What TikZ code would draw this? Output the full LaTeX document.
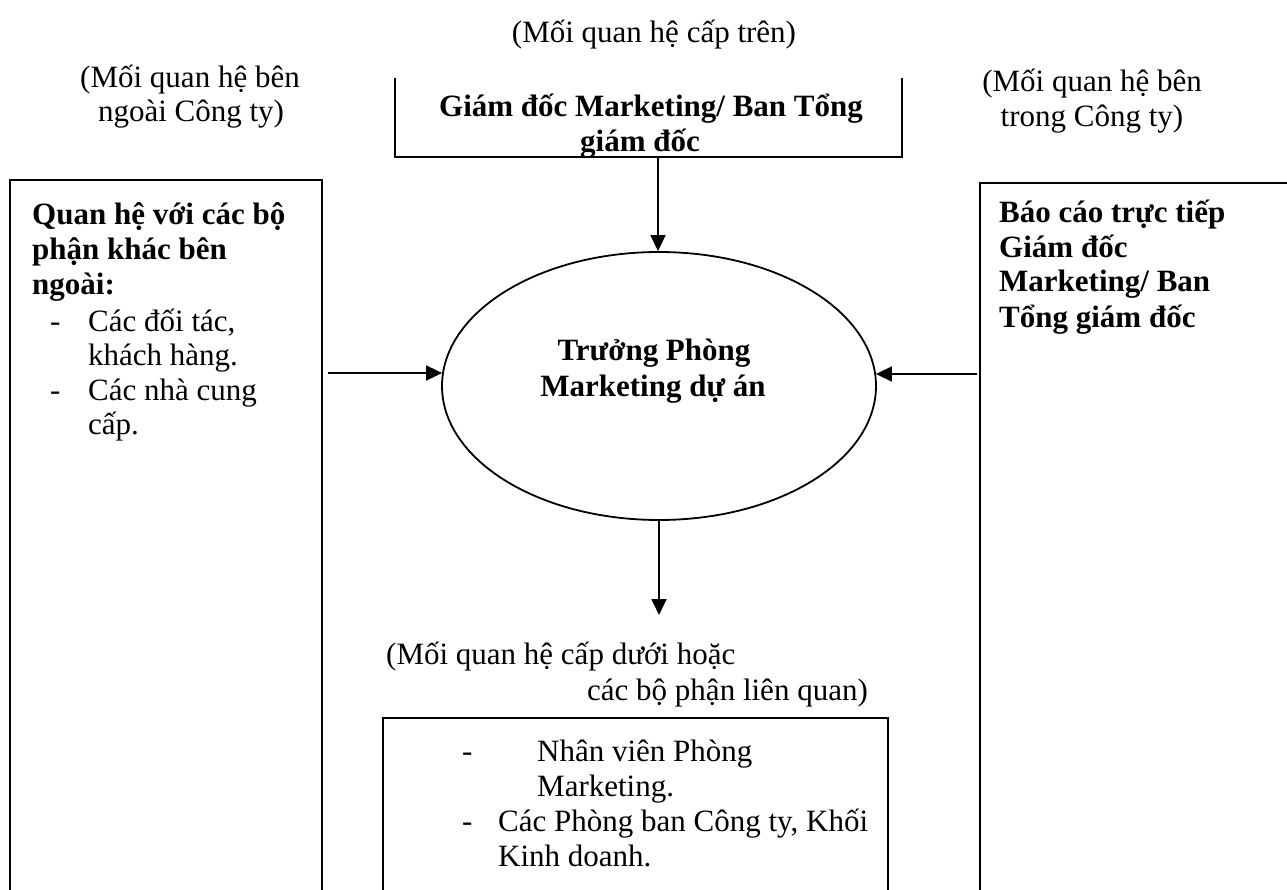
\documentclass[tikz,border=0pt]{standalone}
\usepackage{fontspec}
\setmainfont{Liberation Serif}
\usetikzlibrary{arrows.meta,shapes.geometric}
\begin{document}
\begin{tikzpicture}[x=1pt,y=-1pt,
  txt/.style={font=\fontsize{31}{35}\selectfont, inner sep=0pt, anchor=base west},
  txtc/.style={txt, anchor=base},
  btxt/.style={txt, font=\fontsize{31}{35}\selectfont\bfseries},
  btxtc/.style={btxt, anchor=base},
  boxline/.style={line width=2.9pt},
  conn/.style={line width=1.7pt, -{Triangle[length=16pt,width=15pt]}}
]
\useasboundingbox (0,0) rectangle (1287,890);

% labels
\node[txtc] (toplab) at (654,43) {(Mối quan hệ cấp trên)};
\node[txtc] (leftlab1) at (190,88) {(Mối quan hệ bên};
\node[txtc] (leftlab2) at (191,122) {ngoài Công ty)};
\node[txtc] (rightlab1) at (1092,92) {(Mối quan hệ bên};
\node[txtc] (rightlab2) at (1092,127) {trong Công ty)};

% top box (open top)
\draw[boxline] (395,78) -- (395,157) -- (902,157) -- (902,78);
\begin{scope}
\clip (396,60) rectangle (901,156);
\node[btxtc] (gd1) at (651,117) {Giám đốc Marketing/ Ban Tổng};
\node[btxtc] (gd2) at (640,152) {giám đốc};
\end{scope}
\coordinate (gdout) at (658,157);

% left box
\draw[boxline] (10,890) -- (10,180) -- (322,180) -- (322,890);
\node[btxt] (l1) at (32,225) {Quan hệ với các bộ};
\node[btxt] (l2) at (32,260) {phận khác bên};
\node[btxt] (l3) at (32,295) {ngoài:};
\node[txt] (l4d) at (50,331) {-};
\node[txt] (l4) at (88,331) {Các đối tác,};
\node[txt] (l5) at (88,366) {khách hàng.};
\node[txt] (l6d) at (50,400) {-};
\node[txt] (l6) at (88,400) {Các nhà cung};
\node[txt] (l7) at (88,434) {cấp.};
\coordinate (lout) at (328,373);

% right box (open right)
\draw[boxline] (980,890) -- (980,183) -- (1287,183);
\node[btxt] (r1) at (999,223) {Báo cáo trực tiếp};
\node[btxt] (r2) at (999,258) {Giám đốc};
\node[btxt] (r3) at (999,292) {Marketing/ Ban};
\node[btxt] (r4) at (999,327) {Tổng giám đốc};
\coordinate (rout) at (977,374);

% ellipse
\node[ellipse, draw, line width=1.8pt, minimum width=434pt, minimum height=268pt, inner sep=0pt] (ell) at (659,386) {};
\node[btxtc] (e1) at (654,360) {Trưởng Phòng};
\node[btxtc] (e2) at (653,396) {Marketing dự án};

% bottom
\coordinate (bend) at (659,615);
\node[txt] (bl1) at (386,664) {(Mối quan hệ cấp dưới hoặc};
\node[txt, anchor=base east] (bl2) at (868,700) {các bộ phận liên quan)};

\draw[boxline] (383,890) -- (383,718) -- (888,718) -- (888,890);
\node[txt] (b1d) at (462,761) {-};
\node[txt] (b1) at (537,761) {Nhân viên Phòng};
\node[txt] (b2) at (537,796) {Marketing.};
\node[txt] (b3d) at (462,831) {-};
\node[txt] (b3) at (498,831) {Các Phòng ban Công ty, Khối};
\node[txt] (b4) at (498,866) {Kinh doanh.};

% connectors
\draw[conn] (gdout) -- (gdout |- ell.north);
\draw[conn] (lout) -- ([xshift=1pt]lout -| ell.west);
\draw[conn] (rout) -- ([xshift=-1pt]rout -| ell.east);
\draw[conn] (ell.south) -- (bend);
\end{tikzpicture}
\end{document}
